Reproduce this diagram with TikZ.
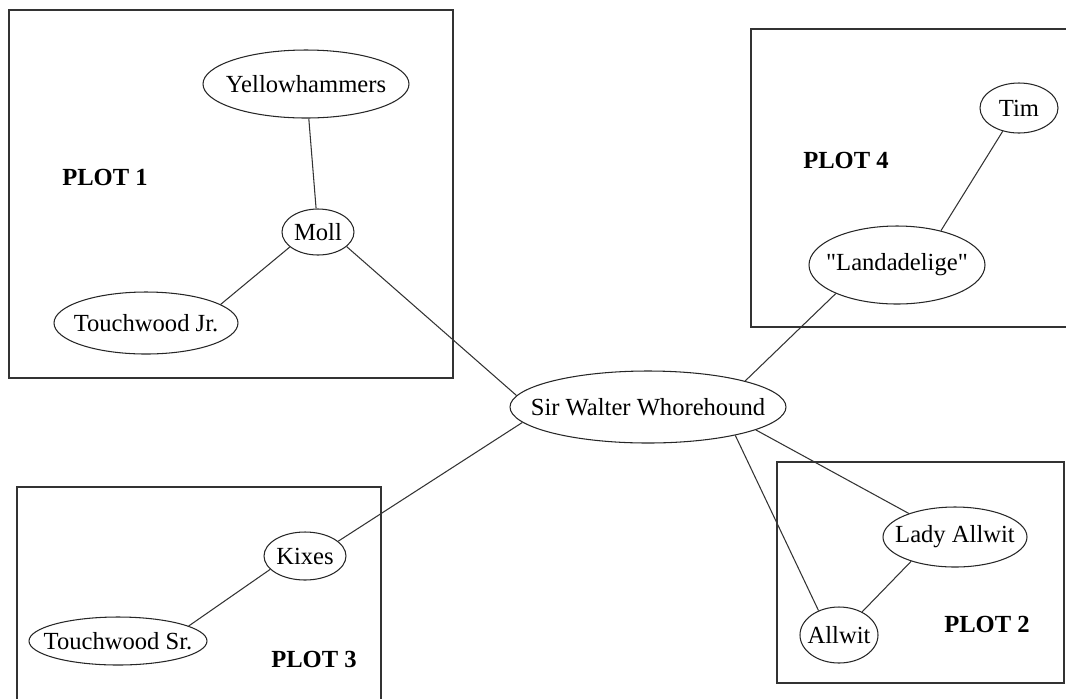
\documentclass[tikz,border=0pt]{standalone}
\usepackage{fontspec}
\setmainfont{Liberation Serif}[Ligatures=TeXOff]
\usetikzlibrary{shapes.geometric}

% text centred over a fixed-size ellipse
\newcommand{\nm}[1]{\makebox[0pt]{#1}}
\def\px{0.02cm}

\begin{document}
\begin{tikzpicture}[
    x = 0.02cm, y = -0.02cm,
    every node/.style = {font=\fontsize{14}{17}\selectfont},
    % Named styles
    person/.style    = {ellipse, draw=black!85, line width=0.6pt, inner sep=0pt},
    plotbox/.style   = {draw=black!80, line width=0.8pt},
    plotlabel/.style = {font=\fontsize{14}{17}\selectfont\bfseries},
    link/.style      = {draw=black!80, line width=0.6pt},
]

% ── Canvas ────────────────────────────────────────────────────────────────────
\clip (0,0) rectangle (1066,698);

% ── Plot boxes ────────────────────────────────────────────────────────────────
\draw[plotbox] (9,10)    rectangle (453,378);   % plot 1
\draw[plotbox] (751,29)  rectangle (1080,327);  % plot 4
\draw[plotbox] (17,487)  rectangle (381,720);   % plot 3
\draw[plotbox] (777,462) rectangle (1064,683);  % plot 2

\node[plotlabel] (p1) at (105,177) {PLOT 1};
\node[plotlabel] (p4) at (846,160) {PLOT 4};
\node[plotlabel] (p3) at (314,659) {PLOT 3};
\node[plotlabel] (p2) at (987,624) {PLOT 2};

% ── Characters ────────────────────────────────────────────────────────────────
\node[person, minimum width=276*\px, minimum height=72*\px] (sw)     at (648,407) {\nm{Sir Walter Whorehound}};

% Plot 1
\node[person, minimum width=206*\px, minimum height=68*\px] (yel)    at (306,84)  {\nm{Yellowhammers}};
\node[person, minimum width=72*\px,  minimum height=46*\px] (moll)   at (318,232) {\nm{Moll}};
\node[person, minimum width=184*\px, minimum height=62*\px] (tjr)    at (146,323) {\nm{Touchwood Jr.}};

% Plot 4
\node[person, minimum width=78*\px,  minimum height=50*\px] (tim)    at (1019,108) {\nm{Tim}};
\node[person, minimum width=176*\px, minimum height=78*\px] (land)   at (897,265)  {\nm{"Landadelige"}};

% Plot 3
\node[person, minimum width=82*\px,  minimum height=48*\px] (kix)    at (305,556) {\nm{Kixes}};
\node[person, minimum width=178*\px, minimum height=48*\px] (tsr)    at (118,641) {\nm{Touchwood Sr.}};

% Plot 2
\node[person, minimum width=144*\px, minimum height=60*\px] (lady)   at (955,537) {\nm{Lady Allwit}};
\node[person, minimum width=78*\px,  minimum height=56*\px] (allwit) at (839,635) {\nm{Allwit}};

% ── Links ─────────────────────────────────────────────────────────────────────
\draw[link] (yel) -- (moll);
\draw[link] (moll.-152) -- (tjr.14);
\draw[link] (moll.-27) -- (sw.175);

\draw[link] (tim.-125) -- (land.38);
\draw[link] (land.-155) -- (sw.15);

\draw[link] (sw.-173) -- (kix.24);
\draw[link] (kix.-159) -- (tsr.12);

\draw[link] (sw.-12) -- (lady.153);
\draw[link] (sw.-18) -- (allwit.130);
\draw[link] (lady.-151) -- (allwit.45);

\end{tikzpicture}
\end{document}
